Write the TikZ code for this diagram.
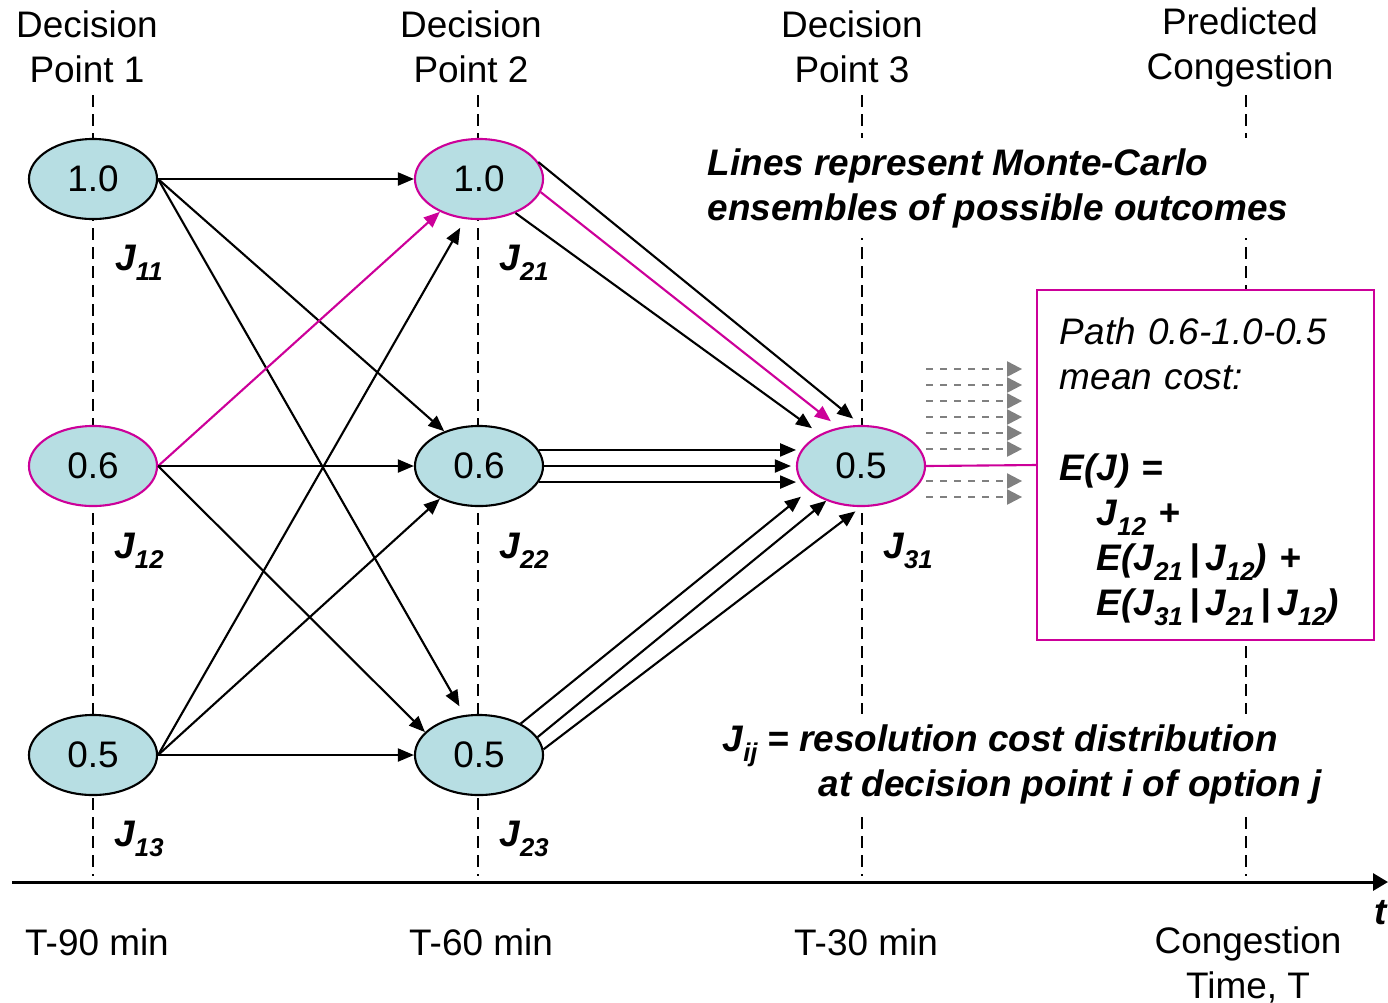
\documentclass[tikz,border=0pt]{standalone}
\usepackage{fontspec}
\setmainfont{Liberation Sans}
\usetikzlibrary{arrows.meta,positioning,shapes.geometric,calc}

\definecolor{nodefill}{RGB}{183,222,227}
\definecolor{pathpink}{RGB}{204,0,153}
\definecolor{ensgray}{RGB}{128,128,128}
\newcommand{\basefont}{\fontsize{10.5pt}{12.8pt}\selectfont}
\newcommand{\bi}[1]{\textbf{\textit{#1}}}
\newcommand{\jsub}[1]{J\raisebox{-3pt}{\fontsize{7.3pt}{8pt}\selectfont #1}}

\begin{document}
\begin{tikzpicture}[
x=0.01cm, y=-0.01cm,
font=\basefont,
option/.style={draw, ellipse, fill=nodefill, line width=0.6pt, minimum width=1.28cm, minimum height=0.8cm, inner sep=0pt},
chosen/.style={option, draw=pathpink},
arrow/.style={-{Triangle[length=0.16cm,width=0.13cm]}, line width=0.6pt},
pinkarrow/.style={arrow, pathpink},
guide/.style={line width=0.7pt, dash pattern=on 0.12cm off 0.07cm},
ensemble/.style={ensgray, line width=0.6pt, dash pattern=on 0.07cm off 0.07cm, -{Triangle[length=0.15cm,width=0.15cm]}},
costline/.style={pathpink, line width=0.6pt},
axis/.style={line width=0.85pt, -{Triangle[length=0.15cm,width=0.17cm]}},
jlab/.style={font=\basefont\bfseries\itshape, inner sep=0pt},
note/.style={fill=white, align=left, inner sep=0.1cm, font=\basefont\bfseries\itshape},
costbox/.style={draw=pathpink, fill=white, line width=0.6pt, text width=2.91cm, inner xsep=0.23cm, minimum height=3.5cm, align=left}
]
\useasboundingbox (0,0) rectangle (1388,1002);

% time guides
\foreach \gx in {93,478,862,1246}
  \draw[guide] (\gx,95) -- (\gx,876);

% headers
\node[align=center] (h1) at (87,47) {Decision\\Point 1};
\node[align=center] (h2) at (471,47) {Decision\\Point 2};
\node[align=center] (h3) at (852,47) {Decision\\Point 3};
\node[align=center] (h4) at (1240,47) {Predicted\\Congestion};

% options at each decision point
\node[option] (a1) at (93,179) {1.0};
\node[chosen] (a2) at (93,466) {0.6};
\node[option] (a3) at (93,755) {0.5};
\node[chosen] (b1) at (479,179) {1.0};
\node[option] (b2) at (479,466) {0.6};
\node[option] (b3) at (479,755) {0.5};
\node[chosen] (c1) at (861,466) {0.5};

% cost labels
\node[jlab] (j11) at ([shift={(46,84)}]a1) {\jsub{11}};
\node[jlab] (j12) at ([shift={(46,85)}]a2) {\jsub{12}};
\node[jlab] (j13) at ([shift={(46,84)}]a3) {\jsub{13}};
\node[jlab] (j21) at ([shift={(45,84)}]b1) {\jsub{21}};
\node[jlab] (j22) at ([shift={(45,85)}]b2) {\jsub{22}};
\node[jlab] (j23) at ([shift={(45,84)}]b3) {\jsub{23}};
\node[jlab] (j31) at ([shift={(47,85)}]c1) {\jsub{31}};

% decision point 1 -> 2
\draw[arrow] (a1.east) -- (b1.west);
\draw[arrow] (a1.east) -- (b2.135);
\draw[arrow, shorten >=0.1cm] (a1.east) -- (b3.110);
\draw[pinkarrow] (a2.east) -- (b1.220);
\draw[arrow] (a2.east) -- (b2.west);
\draw[arrow] (a2.east) -- (b3.157);
\draw[arrow, shorten >=0.1cm] (a3.east) -- (b1.251);
\draw[arrow] (a3.east) -- (b2.220);
\draw[arrow] (a3.east) -- (b3.west);

% decision point 2 -> 3 (ensembles)
\draw[arrow, shorten >=0.1cm] (b1.16) -- (c1.north);
\draw[pinkarrow, shorten >=0.1cm] (b1.348) -- (c1.120);
\draw[arrow, shorten >=0.1cm] (b1.317) -- (c1.142);
\draw[arrow, shorten >=0.05cm] (b2.15) -- (c1.165);
\draw[arrow, shorten >=0.05cm] (b2.east) -- (c1.west);
\draw[arrow, shorten >=0.05cm] (b2.345) -- (c1.195);
\draw[arrow, shorten >=0.1cm] (b3.37) -- (c1.205);
\draw[arrow] (b3.17) -- (c1.225);
\draw[arrow, shorten >=0.07cm] (b3.5) -- (c1.south);

% outcomes past decision point 3
\foreach \dy in {-97,-81,-65,-49,-33,-17,15,31}
  \draw[ensemble] ($(c1.east)+(0,\dy)$) -- ++(96,0);

% notes
\node[note, anchor=west] (ens) at (697,188) {Lines represent Monte-Carlo\\ensembles of possible outcomes};
\node[note, anchor=west] (jdef) at (712,764) {\jsub{ij} = resolution cost distribution\\\hspace*{0.96cm}at decision point i of option j};

% mean cost of the chosen path
\node[costbox] (cost) at (1205.5,465) {\rule{0pt}{11.6pt}\textit{Path 0.6-1.0-0.5}\\\textit{mean cost:}\\[12.8pt]
\bi{E(J) =}\\
\mbox{\hspace*{0.37cm}\bi{\jsub{12} +}}\\
\mbox{\hspace*{0.37cm}\bi{E(\jsub{21}\,|\,\jsub{12}) +}}\\
\mbox{\hspace*{0.37cm}\bi{E(\jsub{31}\,|\,\jsub{21}\,|\,\jsub{12})}}};
\draw[costline] (c1.east) -- (cost.west);

% time axis
\coordinate (tstart) at (12,882);
\coordinate (tend) at (1388,882);
\draw[axis] (tstart) -- (tend);
\node[jlab] (tlab) at (1381,913) {t};

\node (t1) at (97,942) {T-90 min};
\node (t2) at (481,942) {T-60 min};
\node (t3) at (866,942) {T-30 min};
\node[align=center] (t4) at (1248,965) {Congestion\\Time, T};
\end{tikzpicture}
\end{document}
